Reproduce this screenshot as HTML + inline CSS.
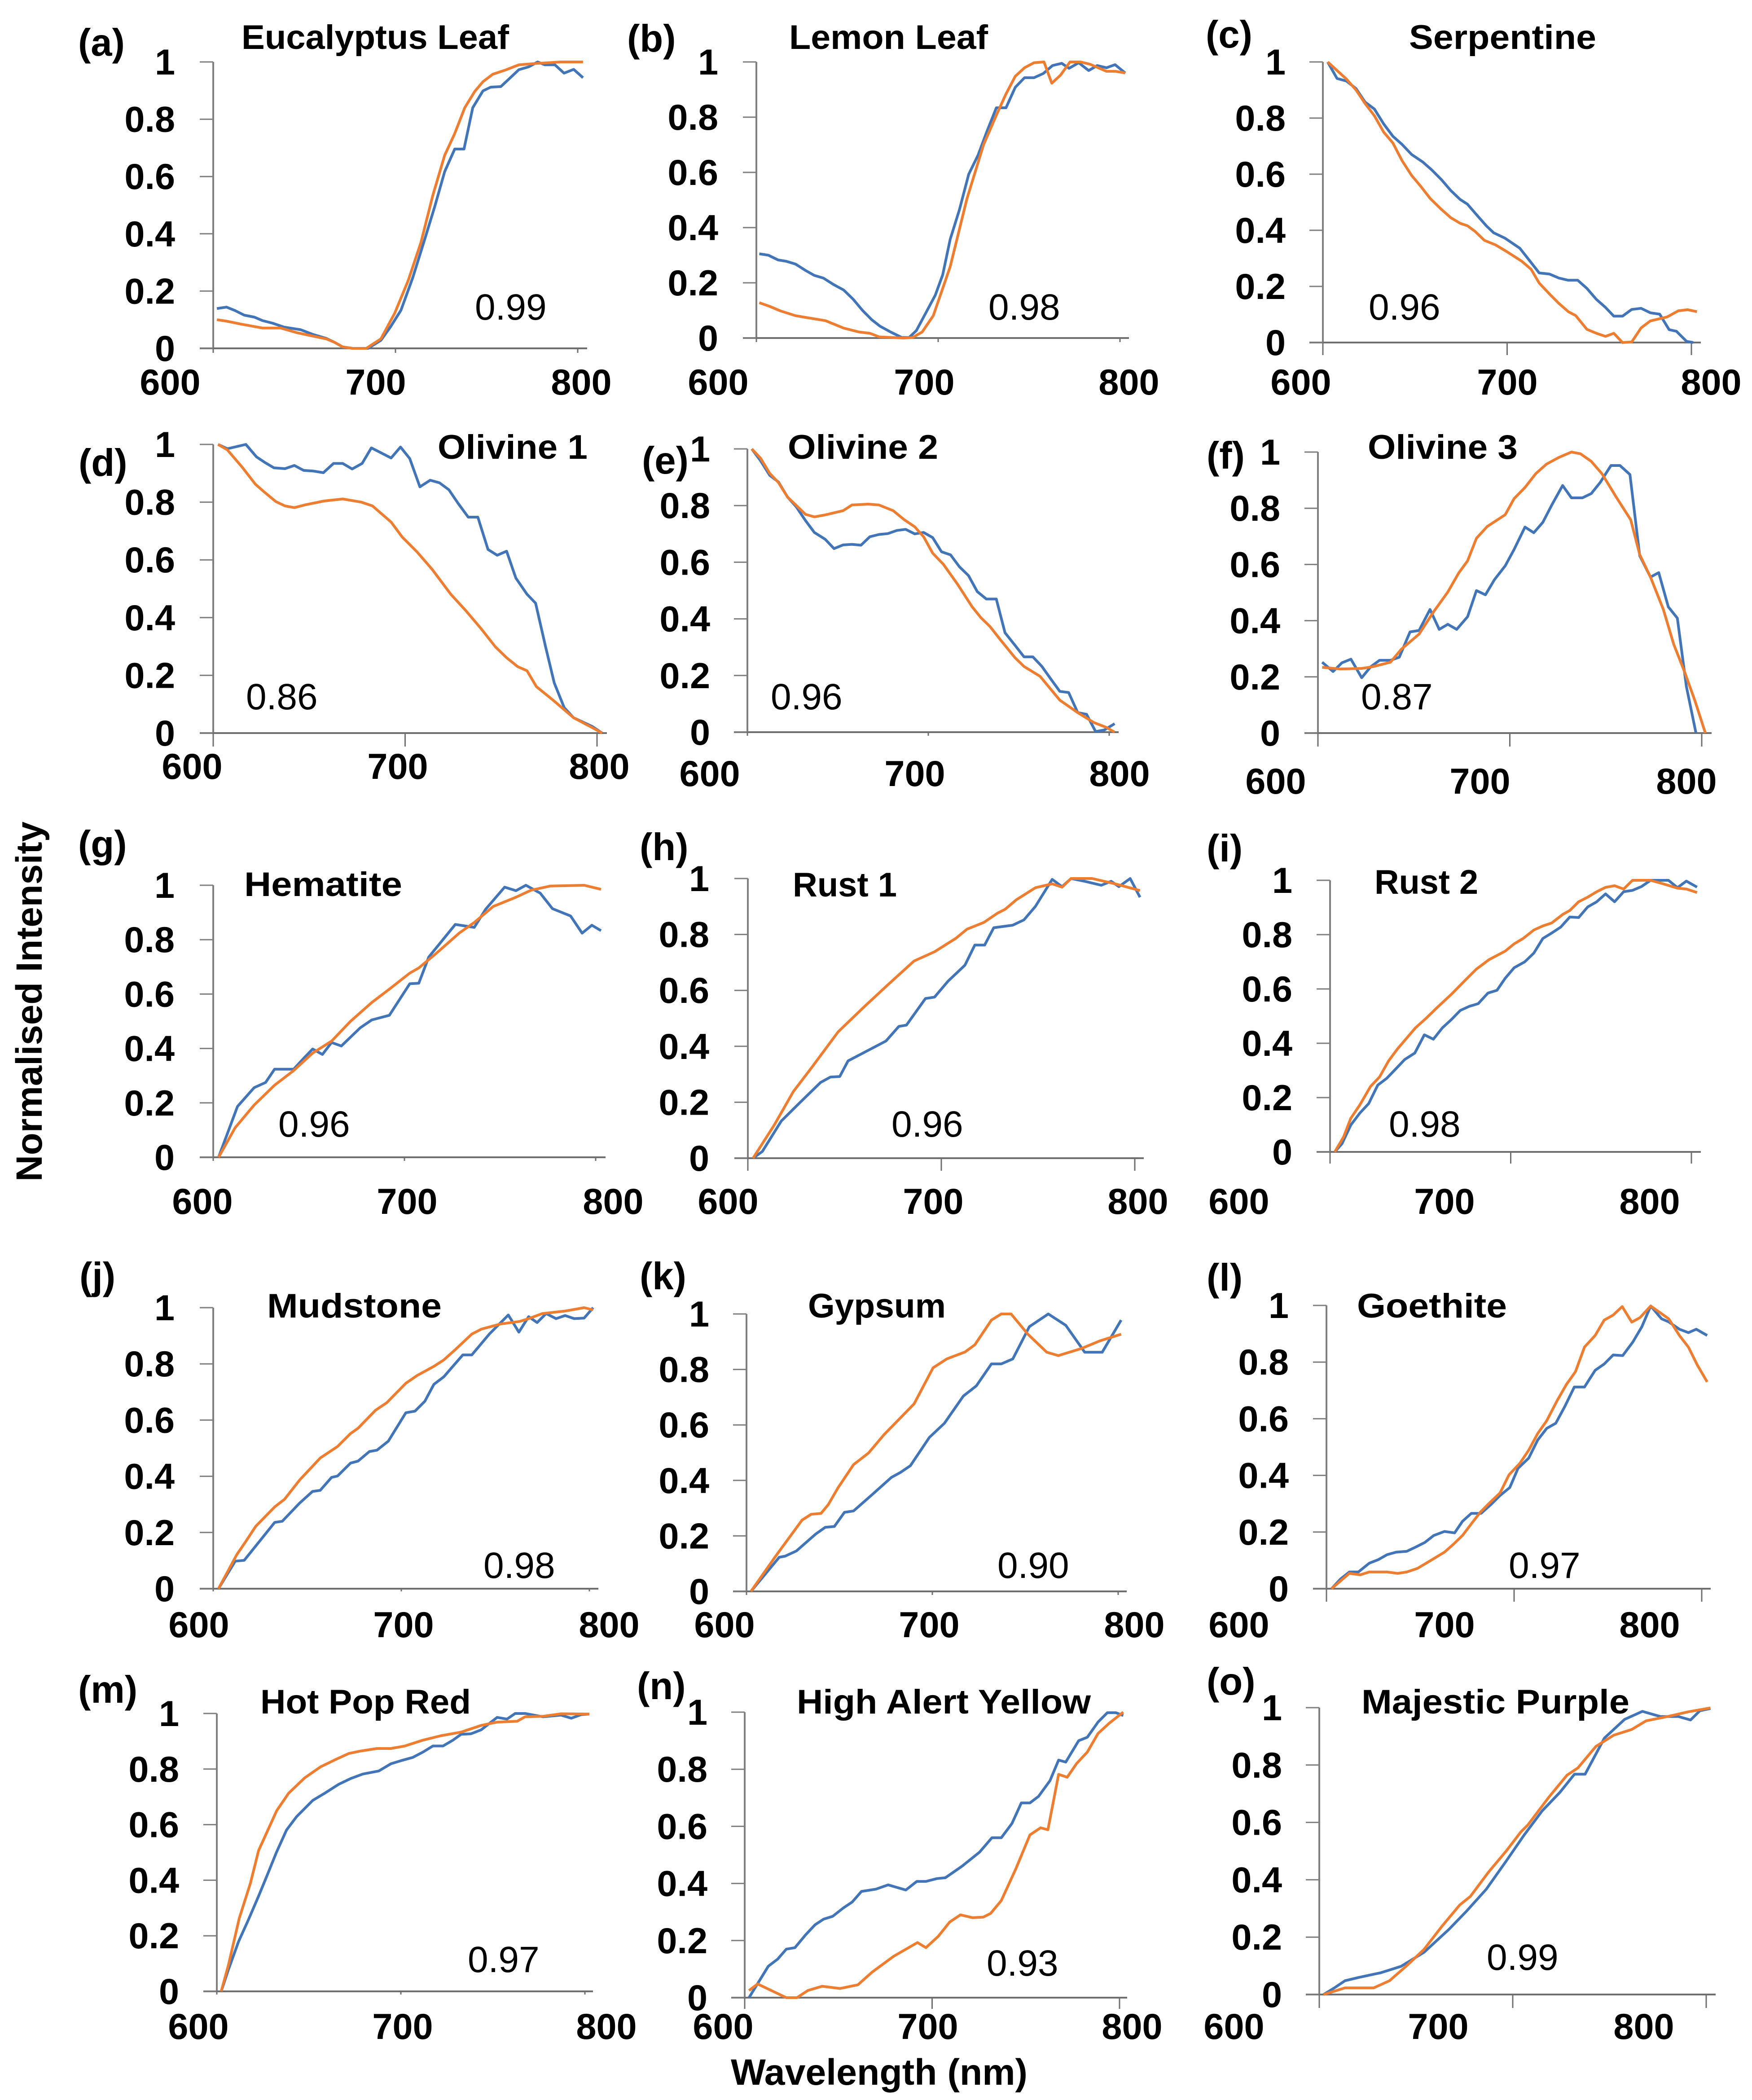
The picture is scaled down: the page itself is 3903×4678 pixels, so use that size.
<!DOCTYPE html>
<html lang="en">
<head>
<meta charset="utf-8">
<title>Normalised intensity spectra</title>
<style>
html,body{margin:0;padding:0;background:#fff;}
svg{display:block;}
text{font-family:"Liberation Sans",sans-serif;fill:#000;}
.panel-letter{font-size:85px;font-weight:700;}
.panel-title{font-size:76px;font-weight:700;}
.corr{font-size:82px;font-weight:400;}
.tick{font-size:81px;font-weight:700;}
.axis-title{font-size:82px;font-weight:700;}
</style>
</head>
<body>
<svg id="chart" xmlns="http://www.w3.org/2000/svg" width="3903" height="4678" viewBox="0 0 3903 4678">
<rect width="3903" height="4678" fill="#fff"/>
<text class="axis-title" transform="translate(93 2632) rotate(-90)" textLength="802" lengthAdjust="spacingAndGlyphs">Normalised Intensity</text>
<text class="axis-title" x="1628" y="4644" textLength="661" lengthAdjust="spacingAndGlyphs">Wavelength (nm)</text>

<text class="panel-letter" x="174" y="124">(a)</text>
<text class="panel-title" x="538" y="109" textLength="596" lengthAdjust="spacingAndGlyphs">Eucalyptus Leaf</text>
<text class="corr" x="1058" y="712">0.99</text>

<text class="panel-letter" x="1397" y="115">(b)</text>
<text class="panel-title" x="1758" y="109" textLength="443" lengthAdjust="spacingAndGlyphs">Lemon Leaf</text>
<text class="corr" x="2202" y="712">0.98</text>

<text class="panel-letter" x="2686" y="106">(c)</text>
<text class="panel-title" x="3139" y="109" textLength="417" lengthAdjust="spacingAndGlyphs">Serpentine</text>
<text class="corr" x="3049" y="712">0.96</text>

<text class="panel-letter" x="175" y="1060">(d)</text>
<text class="panel-title" x="975" y="1022" textLength="334" lengthAdjust="spacingAndGlyphs">Olivine 1</text>
<text class="corr" x="548" y="1580">0.86</text>

<text class="panel-letter" x="1430" y="1055">(e)</text>
<text class="panel-title" x="1755" y="1022" textLength="335" lengthAdjust="spacingAndGlyphs">Olivine 2</text>
<text class="corr" x="1717" y="1580">0.96</text>

<text class="panel-letter" x="2688" y="1044">(f)</text>
<text class="panel-title" x="3047" y="1022" textLength="334" lengthAdjust="spacingAndGlyphs">Olivine 3</text>
<text class="corr" x="3032" y="1580">0.87</text>

<text class="panel-letter" x="174" y="1910">(g)</text>
<text class="panel-title" x="544" y="1996" textLength="352" lengthAdjust="spacingAndGlyphs">Hematite</text>
<text class="corr" x="620" y="2532">0.96</text>

<text class="panel-letter" x="1425" y="1916">(h)</text>
<text class="panel-title" x="1766" y="1997" textLength="232" lengthAdjust="spacingAndGlyphs">Rust 1</text>
<text class="corr" x="1986" y="2532">0.96</text>

<text class="panel-letter" x="2688" y="1919">(i)</text>
<text class="panel-title" x="3062" y="1991" textLength="231" lengthAdjust="spacingAndGlyphs">Rust 2</text>
<text class="corr" x="3094" y="2532">0.98</text>

<text class="panel-letter" x="177" y="2872">(j)</text>
<text class="panel-title" x="595" y="2935" textLength="389" lengthAdjust="spacingAndGlyphs">Mudstone</text>
<text class="corr" x="1077" y="3515">0.98</text>

<text class="panel-letter" x="1425" y="2872">(k)</text>
<text class="panel-title" x="1800" y="2935" textLength="307" lengthAdjust="spacingAndGlyphs">Gypsum</text>
<text class="corr" x="2222" y="3515">0.90</text>

<text class="panel-letter" x="2688" y="2875">(l)</text>
<text class="panel-title" x="3023" y="2935" textLength="334" lengthAdjust="spacingAndGlyphs">Goethite</text>
<text class="corr" x="3361" y="3515">0.97</text>

<text class="panel-letter" x="174" y="3793">(m)</text>
<text class="panel-title" x="580" y="3817" textLength="469" lengthAdjust="spacingAndGlyphs">Hot Pop Red</text>
<text class="corr" x="1042" y="4393">0.97</text>

<text class="panel-letter" x="1419" y="3785">(n)</text>
<text class="panel-title" x="1775" y="3817" textLength="655" lengthAdjust="spacingAndGlyphs">High Alert Yellow</text>
<text class="corr" x="2198" y="4401">0.93</text>

<text class="panel-letter" x="2688" y="3775">(o)</text>
<text class="panel-title" x="3033" y="3817" textLength="597" lengthAdjust="spacingAndGlyphs">Majestic Purple</text>
<text class="corr" x="3312" y="4388">0.99</text>
</svg>
<script>
const xTickValues = [600, 700, 800];
const xTickLabels = ["600", "700", "800"];
const yTickValues = [0, 0.2, 0.4, 0.6, 0.8, 1];
const yTickLabels = ["0", "0.2", "0.4", "0.6", "0.8", "1"];

const a_blue_wl = [602,607.3,611.6,617,622.6,627,632.5,639,648,654.5,662,666.6,671,676.5,685,692,697.4,703,709.5,716,721.5,727,732.5,737.6,742.4,748,752.3,757.8,762.2,767.7,773.2,778,782,787.5,792.5,797.8,802.9];
const a_blue = [.139,.144,.133,.116,.109,.097,.088,.074,.065,.049,.035,.021,.005,0,0,.028,.076,.133,.247,.38,.494,.617,.696,.696,.84,.899,.912,.914,.94,.973,.983,1,.99,.99,.961,.974,.945];
const a_orange_wl = [602,607.3,615,627,637,645.7,654.5,662,666.6,671,676.5,684,692,699.6,707,714,720.4,727,732.5,738,743.5,748,753.4,760,767.7,777.6,790.8,802.9];
const a_orange = [.10,.095,.085,.071,.071,.055,.043,.033,.021,.005,0,0,.033,.123,.237,.37,.532,.674,.75,.84,.897,.931,.957,.971,.99,.995,1,1];

const b_blue_wl = [601.6,606.6,611.9,616.4,621.5,627,631.8,636.9,642.4,648,653.3,658.4,663.5,668,673.8,680,684,688,693.2,698.4,702.5,706.6,711.7,716.8,721.9,727,732,737.3,742.4,747.5,752.7,757.8,762.9,768,772,777.3,782.8,787.5,792.6,797.3,802.9];
const b_blue = [.305,.30,.283,.278,.268,.245,.227,.217,.194,.174,.14,.10,.066,.043,.022,.002,.002,.027,.091,.155,.229,.357,.465,.593,.662,.751,.834,.834,.908,.943,.943,.958,.987,.995,.977,.997,.969,.987,.979,.99,.96];
const b_orange_wl = [601.6,607.2,613.3,621.5,627.7,638,648,656.4,662.5,667.6,681,686,691.2,697.3,706.6,715.8,725,732.2,737.3,742.4,747.5,752.7,758.2,762.5,767.4,772.5,778.3,783.4,792.6,797.7,802.9];
const b_orange = [.128,.115,.098,.081,.074,.063,.036,.022,.017,.004,0,.002,.022,.081,.258,.504,.701,.81,.884,.948,.979,.997,1,.923,.953,1,1,.992,.966,.966,.96];

const c_blue_wl = [602.6,607.7,612.8,618,622.9,628,633,638,643,648.2,654.3,659.3,664.4,669.4,674.5,678.5,683.6,688.7,692.7,698.8,706.9,713,717.4,723,728,733.2,738.3,743.3,748.4,753.4,757.9,762.6,767.6,772.7,777.7,782.8,787.9,791.9,797.4,801];
const c_blue = [1,.941,.932,.905,.857,.832,.779,.735,.706,.67,.643,.614,.58,.542,.51,.493,.454,.416,.391,.372,.336,.285,.248,.244,.23,.222,.222,.193,.154,.125,.094,.094,.118,.122,.106,.101,.046,.04,.004,0];
const c_orange_wl = [602.6,612.8,618,622.9,628,633,638,643,648.2,653.2,658.3,664.4,669.4,674.5,678.5,682.6,687.7,693.7,699.8,707.9,713,717.4,723,728,733.2,737.2,743.3,748.4,753.4,757.9,762.6,767.6,772.7,777.7,786.8,792.9,798,803];
const c_orange = [1,.939,.90,.852,.808,.75,.711,.648,.595,.556,.513,.474,.445,.425,.416,.396,.364,.348,.324,.29,.261,.212,.173,.14,.11,.096,.047,.033,.022,.033,0,.002,.052,.077,.091,.113,.117,.11];

const d_blue_wl = [602.5,607.4,617,622.5,626.8,631.6,637.4,642.3,647.1,652,657.4,662.7,667.5,672.4,677.6,682.4,692.7,697.6,702.4,707.7,713.1,717.9,722.8,727.6,732.9,737.9,743.2,748,752.9,757.7,763.5,768,773.2,777.7,782.9,787.8,797.5,802.7];
const d_blue = [1,.985,1,.957,.938,.919,.916,.927,.91,.908,.902,.934,.934,.915,.934,.988,.953,.991,.951,.853,.876,.867,.843,.796,.748,.748,.636,.616,.63,.537,.481,.45,.299,.174,.088,.053,.023,0];
const d_orange_wl = [602.5,607.4,615.1,622,626.8,632.6,637.4,642.3,648.1,657.8,667.5,677.2,683,692.7,698.5,706.3,714.1,723.8,731.5,739.3,747,752.9,758.7,763.5,768.4,777.1,787.8,797.5,802.7];
const d_orange = [1,.981,.921,.862,.834,.802,.787,.781,.791,.804,.811,.80,.787,.731,.679,.627,.567,.481,.425,.364,.299,.261,.23,.216,.161,.114,.053,.019,0];

const e_blue_wl = [602.4,607.3,612.3,617.2,622.2,627.1,632.1,637,643,647.9,652.9,657.8,662.8,667.7,672.7,677.6,682.6,687.5,692.5,697.4,702.4,707.3,712.3,717.2,722.2,727.1,732.1,737.6,742.4,747.9,752.9,757.8,762.8,767.7,772.7,777.6,782.6,787.5,792.5,797.4,803];
const e_blue = [1,.958,.907,.883,.83,.795,.747,.705,.681,.648,.661,.663,.66,.69,.698,.701,.712,.716,.70,.705,.687,.637,.626,.584,.553,.496,.47,.47,.351,.307,.266,.266,.232,.188,.144,.14,.069,.063,.002,.008,.03];
const e_orange_wl = [602.4,607.3,612.3,617.2,622.2,627.1,632.1,637,643,652.9,657.8,666.7,672.7,680.6,686.5,692.5,697.4,702.4,708.3,716.2,724.2,729.1,734.1,740,747.9,752.9,761.8,772.7,782.6,791.5,798.4,803];
const e_orange = [1,.967,.914,.881,.83,.80,.769,.76,.767,.782,.802,.805,.802,.782,.751,.725,.69,.632,.593,.522,.443,.404,.373,.325,.263,.232,.197,.113,.069,.034,.017,0];

const f_blue_wl = [602.2,607.9,612.5,617.2,622.8,627.5,632.1,637.8,642.4,648,652.7,658.4,663.2,667.7,672.3,678,682.6,687.3,692,697.6,702.2,707.9,712.5,717.2,721.9,727.5,732.1,737.8,742.4,747.1,752.7,757.4,762.6,767.7,773.3,777.6,782.6,787.3,792,797];
const f_blue = [.252,.219,.25,.263,.197,.236,.259,.259,.27,.36,.365,.44,.369,.387,.369,.414,.507,.492,.546,.595,.653,.733,.713,.75,.812,.881,.837,.837,.852,.892,.952,.952,.92,.631,.555,.571,.449,.409,.166,0];
const f_orange_wl = [602.2,611.6,622.8,628.4,637.8,643.4,652.7,660.2,667.7,673.3,678,682.6,688.2,697.6,702.2,707.9,713.5,719.1,725.6,732.1,736.8,742.4,748,755.5,763,767.7,773.3,780,785.4,791,796.6,801.9];
const f_orange = [.234,.228,.23,.236,.252,.298,.352,.431,.502,.569,.613,.693,.735,.777,.834,.874,.923,.957,.981,1,.994,.967,.923,.839,.759,.635,.555,.44,.316,.219,.112,0];

const g_blue_wl = [602.8,612.7,621.4,627.4,632.1,642.1,647.2,652,657.1,661.9,667,676.9,682.9,692.1,702.8,707.5,712.7,726.6,736.5,742.5,752.4,758.3,763.5,771,777.4,786.9,792.9,798,802.8];
const g_blue = [0,.187,.256,.275,.324,.324,.363,.398,.378,.422,.409,.476,.505,.522,.638,.64,.736,.856,.845,.912,.993,.98,1,.971,.914,.887,.824,.853,.833];
const g_orange_wl = [602.8,611.5,621.4,632.1,642.1,652,661.9,671.8,682.9,692.1,702.8,707.5,716.7,728.6,736.5,746.4,758.3,766.3,776.2,794,802.8];
const g_orange = [0,.109,.192,.265,.319,.383,.427,.50,.569,.618,.677,.696,.75,.824,.863,.922,.956,.982,.997,1,.985];

const h_blue_wl = [602.7,607.5,617.3,627.1,637.6,642.7,647.5,651.8,671.4,678,682,691.8,696.5,703.5,712.2,717.3,722.4,727.1,736.9,742.7,748.6,757.3,762.4,767.1,774.1,782.7,787.8,791.8,797.6,802.7];
const h_blue = [0,.024,.133,.20,.271,.29,.292,.348,.419,.471,.476,.571,.576,.633,.69,.762,.762,.824,.833,.852,.90,.997,.971,1,.99,.976,.99,.971,1,.933];
const h_orange_wl = [602.7,613.7,623.5,633,646.7,660.4,672.2,685.9,696.5,707.5,713.3,722,729,733,738.8,748.6,757.3,762.4,767.1,778,789.8,802.7];
const h_orange = [0,.119,.238,.324,.452,.543,.619,.705,.738,.786,.819,.843,.876,.89,.924,.967,.981,.969,1,1,.981,.957];

const i_blue_wl = [602.6,606.6,611.5,616.5,621.4,626.4,631.4,636.3,641.3,646.9,652.2,657.2,662.2,667.1,672.1,677.1,682,687.4,692.4,696.9,701.9,707.8,712.8,717.8,722.7,727.7,732.7,737.6,742.6,747.6,752.5,757.5,762.5,767.4,772.4,777.4,787.3,792.3,797.2,803.1];
const i_blue = [0,.03,.099,.143,.178,.246,.271,.305,.34,.364,.431,.415,.457,.487,.521,.536,.546,.585,.595,.639,.678,.70,.732,.786,.806,.828,.865,.863,.902,.921,.95,.921,.958,.963,.977,1,1,.973,.997,.975];
const i_orange_wl = [602.6,607.5,611.5,616.5,622.4,627.4,632.4,637.3,642.3,647.3,653.2,659.2,667.1,675.1,681,688,696.9,701.9,706.9,712.8,717.8,722.7,728.7,732.7,737.6,742.6,747.6,752.5,757.5,762.5,767.4,777.4,784.4,792.3,797.2,803.1];
const i_orange = [0,.055,.124,.173,.241,.276,.335,.379,.418,.457,.492,.531,.58,.634,.673,.708,.739,.766,.786,.817,.832,.843,.874,.889,.921,.938,.958,.974,.98,.968,1,1,.987,.971,.968,.955];

const j_blue_wl = [602.8,611.7,616.5,632.7,636.7,646,652.8,656.9,662.9,666.1,673,677,683,687.1,693.1,702.4,707.3,712.5,717.3,722.6,732.7,737.5,746.8,756.9,762.5,767.7,772.2,777,782.3,787.1,791.9,797.2,802];
const j_blue = [0,.098,.101,.236,.24,.305,.346,.35,.396,.401,.447,.454,.488,.493,.525,.626,.632,.667,.727,.754,.832,.832,.906,.974,.913,.968,.947,.979,.961,.972,.961,.963,1];
const j_orange_wl = [602.8,612.5,617.7,622.6,632.7,637.9,646,656.9,666.1,673,677,686.3,692.3,702.4,708.5,717.3,722.6,728.6,737.5,742.7,752.8,762.9,767.7,775,787.1,797.2,802];
const j_orange = [0,.121,.172,.222,.291,.318,.387,.465,.506,.552,.571,.635,.662,.731,.759,.791,.814,.85,.906,.924,.942,.951,.961,.979,.988,1,.992];

const k_blue_wl = [602.4,617.6,620.8,626.9,637.1,642.4,647.3,652.7,657.6,667.8,678,682.9,688.2,698.4,706.5,716.7,723.7,731.8,737.1,743.3,752.2,762.4,771.8,782,791.4,801.6];
const k_blue = [0,.123,.127,.146,.206,.231,.234,.285,.29,.35,.411,.429,.453,.555,.606,.704,.741,.82,.82,.838,.954,1,.959,.862,.862,.978];
const k_orange_wl = [602.4,615.7,621.8,629.9,634.8,640.1,644,649.3,657.6,665.7,673.9,690.2,700.4,707.8,717.6,722.9,731.8,737.1,742.4,751.4,761.6,767.8,780,790.2,801.6];
const k_orange = [0,.127,.183,.257,.278,.281,.313,.374,.457,.499,.564,.676,.806,.838,.863,.889,.978,1,1,.927,.862,.85,.875,.903,.927];

const l_blue_wl = [602.7,607.5,612.2,617,622.8,627.5,632.3,637.1,642.8,647.6,652.4,657.2,662.9,668.3,672.5,677.2,682.4,687.8,692.5,697.7,702.1,707.8,712.6,717.4,722.2,727,732.1,737.5,743.2,748,752.8,757.9,763.3,768.1,772.8,778.6,782.4,788.1,792.9,797.1,802.9];
const l_blue = [0,.034,.059,.059,.09,.102,.12,.129,.132,.147,.163,.188,.202,.197,.238,.266,.266,.298,.329,.357,.425,.461,.525,.566,.584,.643,.712,.712,.771,.793,.825,.823,.871,.925,.998,.953,.942,.916,.904,.916,.894];
const l_orange_wl = [602.7,612.2,618,622.8,632.3,638,642.8,648.6,657.2,662.9,667.7,672.5,677.2,682,686.8,692.5,697.3,703.1,707.8,712.6,717.4,723.1,727.9,732.7,737.5,743.2,748,752.8,757.6,762.7,767.1,772.8,782.4,788.1,792.9,797.7,802.9];
const l_orange = [0,.054,.049,.059,.059,.054,.059,.072,.106,.129,.157,.188,.229,.27,.302,.338,.402,.443,.489,.548,.593,.666,.721,.766,.853,.894,.948,.966,.996,.941,.957,.998,.953,.894,.853,.789,.73];

const m_blue_wl = [602.4,606.3,611.8,617.2,622.7,627,632.5,637.9,643.4,652.1,658.6,666.2,672.8,679.3,688,694.6,700,706.5,712,717.4,722.9,728.3,732.7,738.1,743.6,752.3,757.7,762.1,767.5,777.3,787.1,792.6,798,802.4];
const m_blue = [0,.078,.179,.258,.343,.412,.502,.581,.629,.687,.713,.745,.766,.782,.793,.819,.83,.842,.861,.883,.883,.904,.925,.927,.941,.986,.98,1,1,.988,.994,.983,.996,.998];
const m_orange_wl = [602.4,606.3,612.2,618.3,622.7,632.5,639,647.7,656.4,664.1,671.7,678.2,686.9,694.6,702.2,712,721.8,732.7,743.6,752.3,763.2,767.5,777.3,787.1,802.4];
const m_orange = [0,.094,.263,.39,.507,.65,.713,.768,.808,.833,.856,.865,.874,.874,.883,.904,.92,.933,.957,.969,.972,.988,.99,.999,.998];

const n_blue_wl = [602.3,612.6,617.6,622.2,626.8,632.5,637.5,642.1,647,652.8,657.4,662.3,670,676.5,686,691.8,696.7,702.5,707.1,715.9,725.4,731.9,736.9,742.6,747.6,752.2,756.8,762.9,767.5,771.3,778.2,782.8,788.5,793.5,798.1,802];
const n_blue = [0,.11,.135,.17,.175,.22,.255,.275,.285,.315,.335,.372,.38,.395,.377,.407,.407,.417,.42,.46,.51,.56,.56,.61,.682,.682,.705,.76,.832,.825,.90,.912,.965,.998,.998,.988];
const n_orange_wl = [602.3,606.9,612.6,622.2,627.9,633.7,641.3,650.9,660.4,668.1,679.5,692.2,696.7,703.3,709.4,715.1,721.6,727.3,731.2,736.9,744.6,752.2,757.9,761.8,767.5,772.1,777.1,782.8,788.5,794.3,802];
const n_orange = [.025,.048,.03,0,0,.025,.04,.032,.045,.09,.145,.193,.175,.215,.265,.29,.28,.282,.295,.34,.45,.57,.595,.588,.782,.772,.82,.86,.925,.96,1];

const o_blue_wl = [602.2,607.8,613.3,620.7,631.9,642.2,654.1,667,676.3,686.3,696.7,705.9,715.2,724.4,731.9,737.4,747.4,757.8,767,776.3,785.6,791.9,796.7,802.2];
const o_blue = [0,.023,.048,.06,.076,.098,.147,.227,.292,.367,.466,.556,.64,.705,.768,.768,.894,.959,.987,.969,.969,.957,.989,.997];
const o_orange_wl = [602.2,613.3,628.1,636.3,644.8,654.1,663.3,672.6,678.1,687.4,696.7,704.1,707.8,718.9,728.1,733.7,743,752.2,761.5,768.9,780,791.1,802.2];
const o_orange = [0,.023,.023,.048,.098,.157,.237,.312,.342,.426,.501,.566,.591,.69,.765,.79,.865,.904,.924,.954,.969,.986,.999];

const blueSeries = {a:[a_blue_wl,a_blue],b:[b_blue_wl,b_blue],c:[c_blue_wl,c_blue],d:[d_blue_wl,d_blue],e:[e_blue_wl,e_blue],f:[f_blue_wl,f_blue],g:[g_blue_wl,g_blue],h:[h_blue_wl,h_blue],i:[i_blue_wl,i_blue],j:[j_blue_wl,j_blue],k:[k_blue_wl,k_blue],l:[l_blue_wl,l_blue],m:[m_blue_wl,m_blue],n:[n_blue_wl,n_blue],o:[o_blue_wl,o_blue]};
const orangeSeries = {a:[a_orange_wl,a_orange],b:[b_orange_wl,b_orange],c:[c_orange_wl,c_orange],d:[d_orange_wl,d_orange],e:[e_orange_wl,e_orange],f:[f_orange_wl,f_orange],g:[g_orange_wl,g_orange],h:[h_orange_wl,h_orange],i:[i_orange_wl,i_orange],j:[j_orange_wl,j_orange],k:[k_orange_wl,k_orange],l:[l_orange_wl,l_orange],m:[m_orange_wl,m_orange],n:[n_orange_wl,n_orange],o:[o_orange_wl,o_orange]};

/* Panel layout: axis frames on the page, separate from the data above. */
const frames = [
 {id:'a',x0:475,x800:1287,xEnd:1308,top:138,y0:776,down:10,yR:390,lx:[379,837,1295],lb:879},
 {id:'b',x0:1685,x800:2495,xEnd:2515,top:138,y0:753,down:9,yR:1600,lx:[1600,2059,2515],lb:879},
 {id:'c',x0:2947,x800:3768,xEnd:3789,top:138,y0:763,down:28,yR:2864,lx:[2898,3358,3812],lb:879},
 {id:'d',x0:475,x800:1330,xEnd:1352,top:990,y0:1633,down:30,yR:390,lx:[428,886,1335],lb:1735},
 {id:'e',x0:1665,x800:2471,xEnd:2492,top:1000,y0:1631,down:8,yR:1582,lx:[1581,2038,2494],lb:1751},
 {id:'f',x0:2936,x800:3791,xEnd:3813,top:1007,y0:1633,down:30,yR:2852,lx:[2842,3297,3757],lb:1768},
 {id:'g',x0:475,x800:1327,xEnd:1349,top:1972,y0:2578,down:8,yR:389,lx:[451,907,1366],lb:2704},
 {id:'h',x0:1666,x800:2528,xEnd:2548,top:1957,y0:2580,down:28,yR:1580,lx:[1622,2079,2535],lb:2704},
 {id:'i',x0:2963,x800:3768,xEnd:3789,top:1961,y0:2566,down:26,yR:2879,lx:[2760,3218,3675],lb:2704},
 {id:'j',x0:475,x800:1313,xEnd:1333,top:2913,y0:3539,down:6,yR:389,lx:[443,899,1357],lb:3647},
 {id:'k',x0:1663,x800:2491,xEnd:2510,top:2927,y0:3545,down:8,yR:1580,lx:[1614,2070,2527],lb:3647},
 {id:'l',x0:2955,x800:3791,xEnd:3811,top:2908,y0:3539,down:29,yR:2871,lx:[2760,3218,3675],lb:3647},
 {id:'m',x0:483,x800:1303,xEnd:1321,top:3817,y0:4436,down:7,yR:399,lx:[442,897,1351],lb:4542},
 {id:'n',x0:1659,x800:2494,xEnd:2511,top:3814,y0:4450,down:25,yR:1576,lx:[1611,2067,2522],lb:4542},
 {id:'o',x0:2939,x800:3801,xEnd:3822,top:3804,y0:4443,down:30,yR:2856,lx:[2749,3204,3662],lb:4542}
];

const svgNS = 'http://www.w3.org/2000/svg';
const root = document.getElementById('chart');
function mk(tag, attrs, parent){
  const el = document.createElementNS(svgNS, tag);
  for (const k in attrs) el.setAttribute(k, attrs[k]);
  parent.appendChild(el);
  return el;
}

frames.forEach(function(f){
  const xScale = function(nm){ return f.x0 + (nm - 600) * (f.x800 - f.x0) / 200; };
  const yScale = function(v){ return f.y0 - v * (f.y0 - f.top); };
  const g = mk('g', {}, root);
  
  

  const yAxis = mk('line', {x1:f.x0,x2:f.x0,y1:f.top,y2:f.y0,stroke:'#7f7f7f','stroke-width':4}, g);
  
  
  const xAxis = mk('line', {x1:f.x0-30,x2:f.xEnd,y1:f.y0,y2:f.y0,stroke:'#6f6f6f','stroke-width':4}, g);
  
  

  yTickValues.forEach(function(v, i){
    const py = yScale(v);
    const tick = mk('line', {x1:f.x0-30,x2:f.x0,y1:py,y2:py,stroke:'#7f7f7f','stroke-width':3}, g);
    
    
    const lab = mk('text', {x:f.yR,y:py+28,'text-anchor':'end','class':'tick'}, g);
    lab.textContent = yTickLabels[i];
    
    
  });

  xTickValues.forEach(function(v, i){
    const px = xScale(v);
    const tick = mk('line', {x1:px,x2:px,y1:f.y0,y2:f.y0+f.down,stroke:'#6f6f6f','stroke-width':3}, g);
    
    
    const lab = mk('text', {x:f.lx[i],y:f.lb,'text-anchor':'middle','class':'tick'}, g);
    lab.textContent = xTickLabels[i];
    
    
  });

  const toPoints = function(pair){
    return pair[0].map(function(nm, i){ return xScale(nm).toFixed(1) + ',' + yScale(pair[1][i]).toFixed(1); }).join(' ');
  };
  const blue = mk('polyline', {points:toPoints(blueSeries[f.id]),fill:'none',stroke:'#4274b8','stroke-width':6,'stroke-linejoin':'round'}, g);
  
  
  const orange = mk('polyline', {points:toPoints(orangeSeries[f.id]),fill:'none',stroke:'#ed7d31','stroke-width':6,'stroke-linejoin':'round'}, g);
  
  
});
</script>
</body>
</html>
